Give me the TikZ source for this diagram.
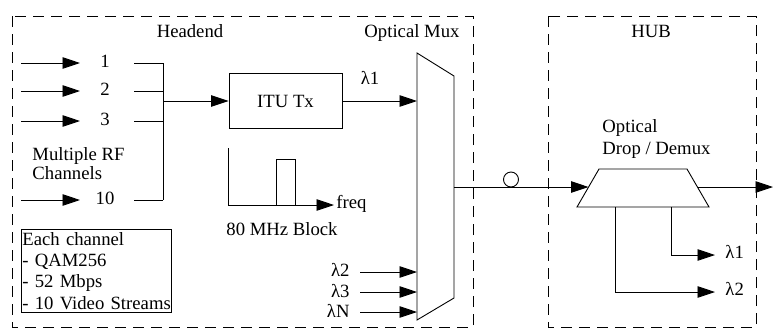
\documentclass[tikz,border=0pt]{standalone}
\usepackage{fontspec}
\setmainfont{Liberation Serif}
\usetikzlibrary{arrows.meta}
\begin{document}
\begin{tikzpicture}[x=1pt,y=-1pt,line width=0.9pt,
  font=\fontsize{18.7}{21.3}\selectfont,
  arr/.style={-{Triangle[length=17.5pt,width=11.5pt]}},
  region/.style={draw,dash pattern=on 11pt off 7pt,line width=0.8pt},
  lbl/.style={inner sep=0pt,anchor=base},
  lblw/.style={inner sep=0pt,anchor=base west},
  lble/.style={inner sep=0pt,anchor=base east}]
\useasboundingbox (0,0) rectangle (774,330);
% regions
\draw[region] (12,16) rectangle (473,327);
\draw[region] (548,16) rectangle (756,327);
\node[lbl] (headend) at (190,37) {Headend};
\node[lbl] (omux) at (412,37) {Optical Mux};
\node[lbl] (hub) at (651,37) {HUB};
% RF inputs
\foreach \y/\t [count=\i] in {63/1,91/2,121/3,200/10}{
  \coordinate (s\i) at (21,\y);
  \coordinate (e\i) at (80,\y);
  \coordinate (r\i) at (134,\y);
  \coordinate (j\i) at (163,\y);
  \node (n\i) at (105,\y-2) {\t};
  \draw[arr] (s\i) -- (e\i);
  \draw (r\i) -- (j\i);
}
\draw (j1) -- (j4);
\node[lblw] (mrf) at (32,160) {Multiple RF};
\node[lblw] (chn) at (32,179) {Channels};
% ITU Tx
\node[draw,minimum width=113pt,minimum height=55pt,inner sep=0pt] (itu) at (285.5,101) {ITU Tx};
\coordinate (bus) at (163,101);
\draw[arr] (bus) -- (itu.west);
% Mux
\draw (417,53) -- (454,76) -- (454,298) -- (417,320) -- cycle;
\coordinate (mi1) at (417,101);
\coordinate (mi2) at (417,272);
\coordinate (mi3) at (417,292);
\coordinate (mi4) at (417,312);
\coordinate (mo) at (454,187);
\draw[arr] (itu.east) -- (mi1);
\node[lbl] (lam1) at (370,84) {λ1};
\node[lble] (lam2) at (350,276) {λ2};
\node[lble] (lam3) at (350,297) {λ3};
\node[lble] (lamN) at (350,317) {λN};
\coordinate (a2) at (360,272);
\coordinate (a3) at (360,292);
\coordinate (a4) at (360,312);
\draw[arr] (a2) -- (mi2);
\draw[arr] (a3) -- (mi3);
\draw[arr] (a4) -- (mi4);
% spectrum
\coordinate (sp0) at (228,148);
\coordinate (sp1) at (228,205);
\coordinate (sp2) at (334,205);
\draw[arr] (sp0) -- (sp1) -- (sp2);
\draw (276,205) -- (276,159) -- (295,159) -- (295,205);
\node[lblw] (freq) at (336,208) {freq};
\node[lbl] (blk) at (282,235) {80 MHz Block};
% info box
\node[draw,anchor=north west,inner xsep=1pt,inner ysep=3pt,align=left,text width=148pt,line width=0.8pt] (info) at (21,229)
  {\mbox{Each channel}\\\mbox{- QAM256}\\\mbox{- 52 Mbps}\\\mbox{- 10 Video Streams}};
% fiber + demux
\draw (599,169) -- (687,169) -- (709,207) -- (577,207) -- cycle;
\coordinate (di) at (588.5,187);
\coordinate (do) at (697.5,187);
\coordinate (out) at (773,187);
\draw[arr] (mo) -- (di);
\node[draw,circle,minimum size=15pt,inner sep=0pt,fill=white] (fib) at (511,179.5) {};
\draw[arr] (do) -- (out);
\node[lblw] (opt) at (602,132) {Optical};
\node[lblw] (dd) at (602,154) {Drop / Demux};
\coordinate (d1) at (671,207);
\coordinate (d2) at (615,207);
\coordinate (t1) at (715,255);
\coordinate (t2) at (715,292);
\draw[arr] (d1) |- (t1);
\draw[arr] (d2) |- (t2);
\node[lblw] (ol1) at (725,258) {λ1};
\node[lblw] (ol2) at (725,295) {λ2};
\end{tikzpicture}
\end{document}
